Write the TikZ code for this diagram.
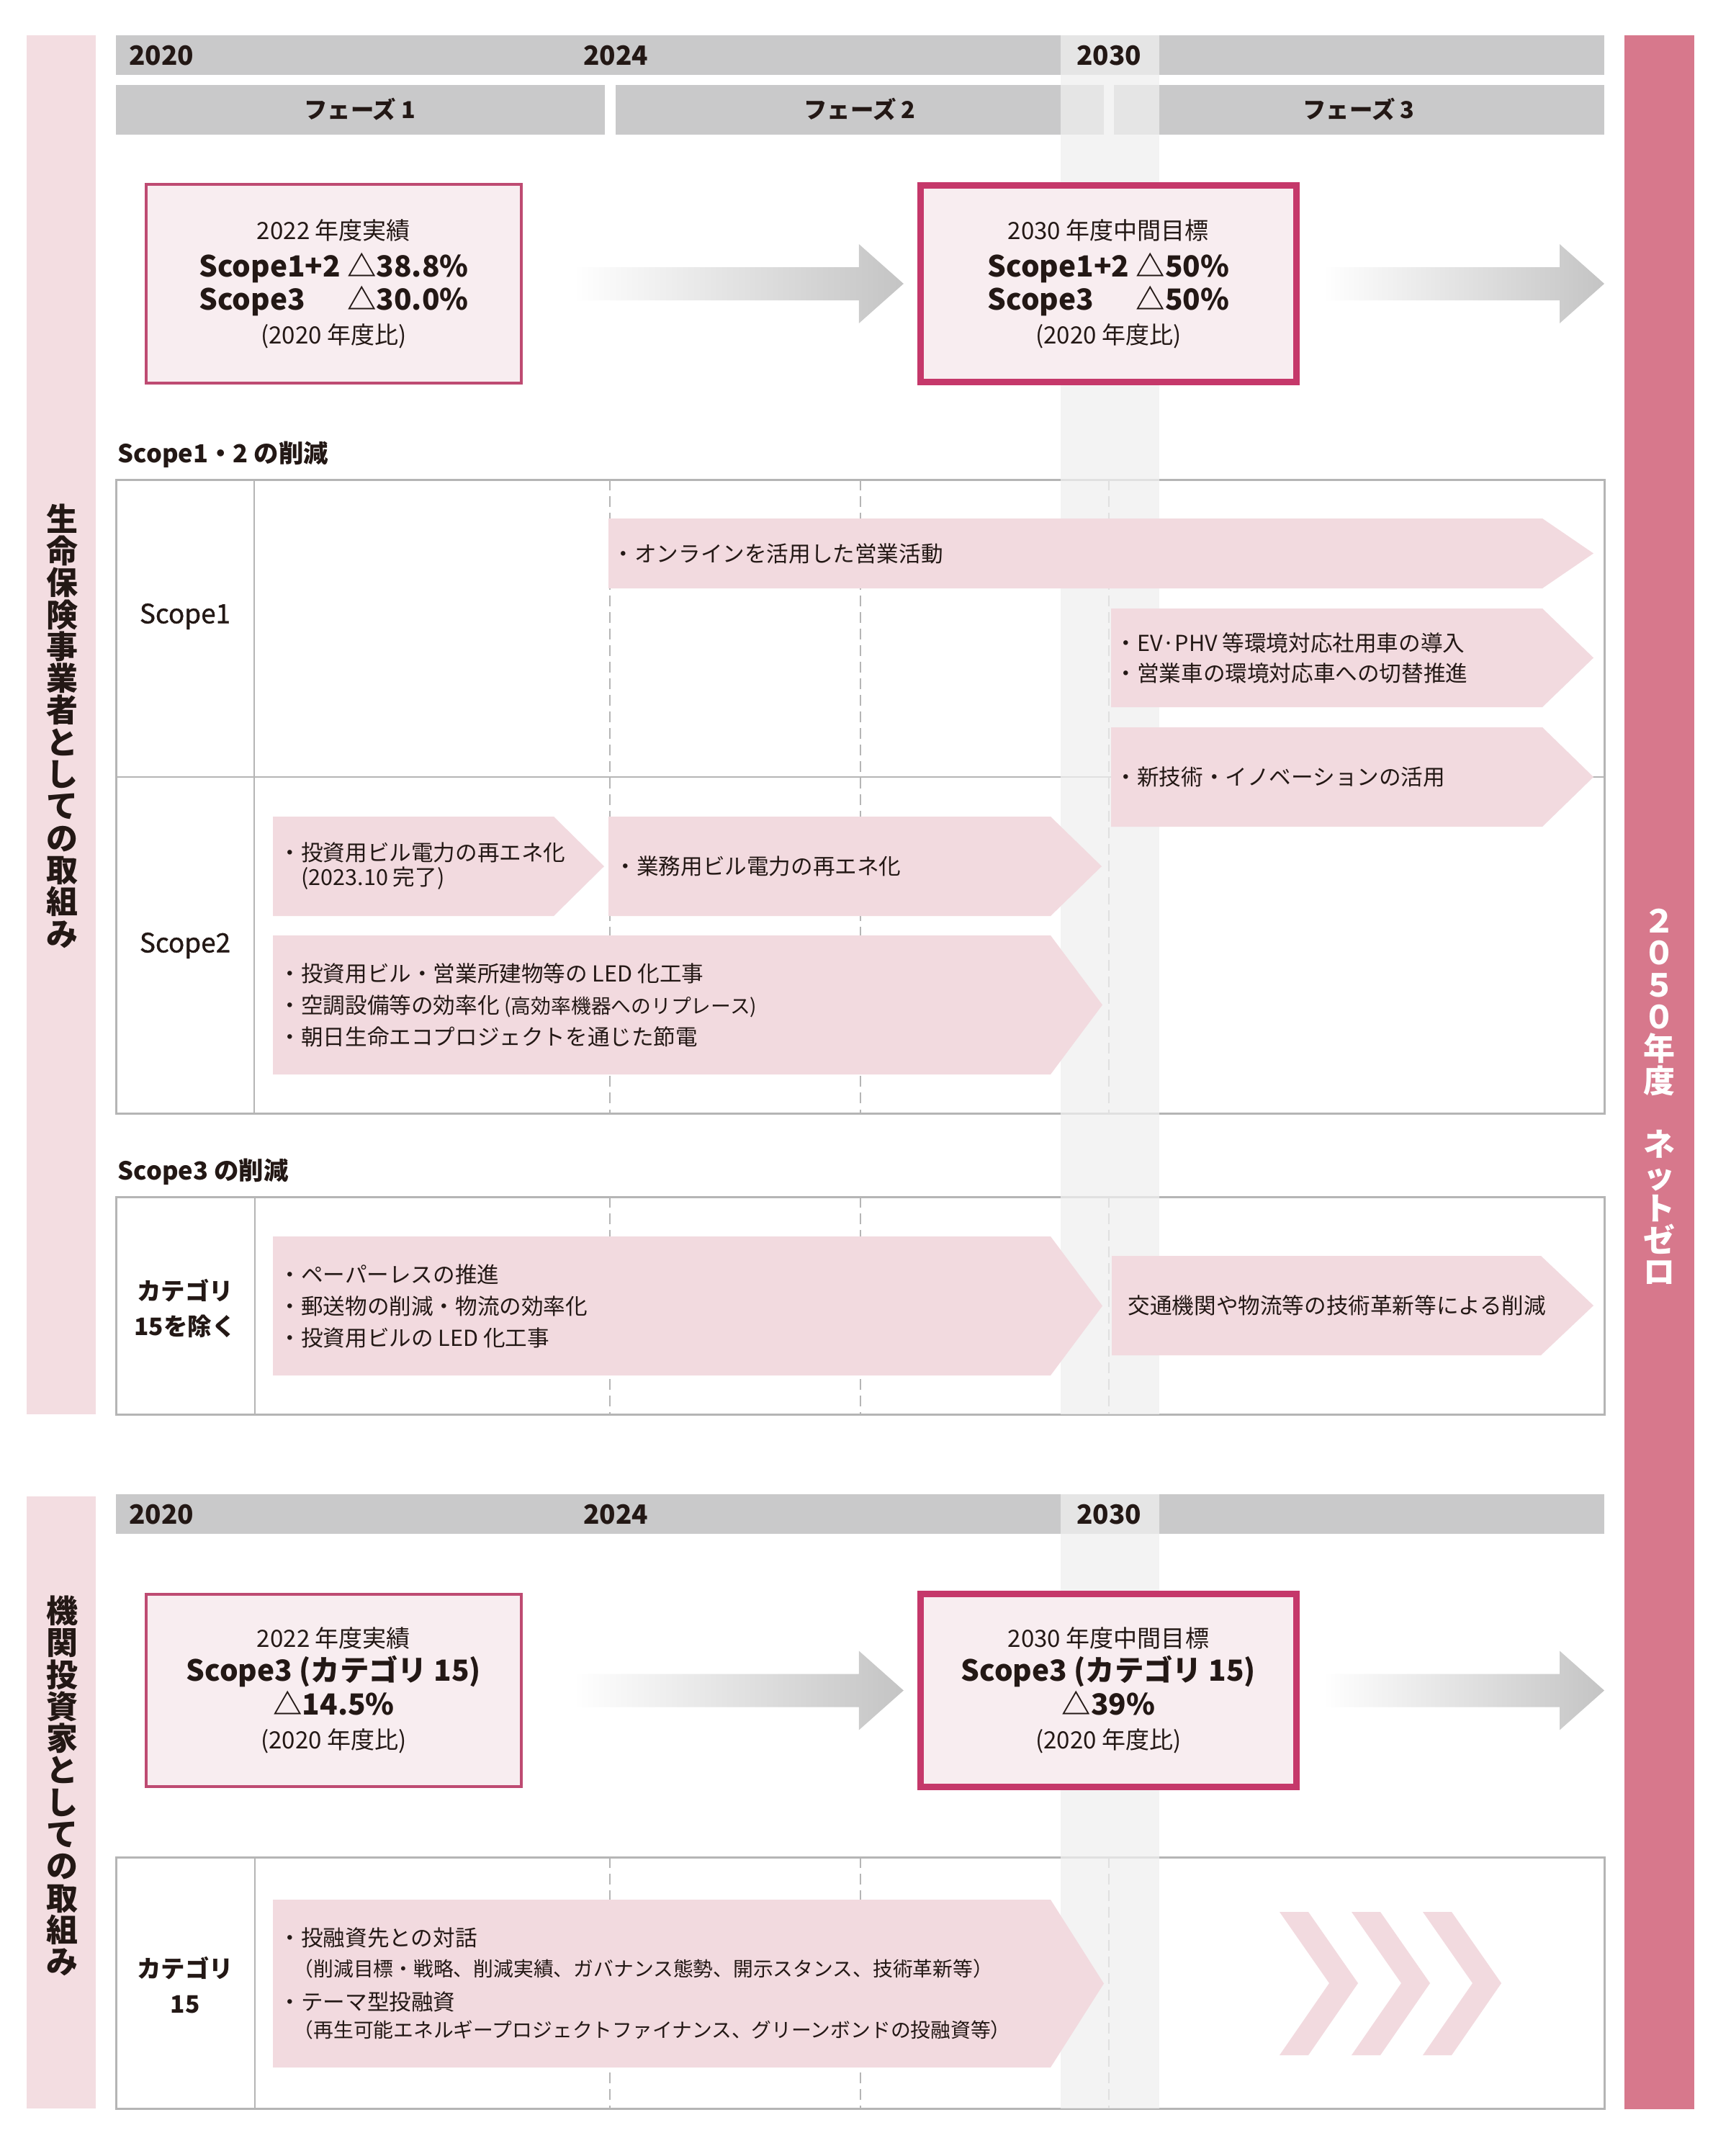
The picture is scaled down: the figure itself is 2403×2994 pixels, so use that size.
\documentclass[tikz,border=0pt]{standalone}
\usepackage{fontspec}
\setmainfont{Noto Sans CJK JP}
\newfontfamily\medfont{Noto Sans CJK JP}[FakeBold=1]
\usetikzlibrary{
  calc,
  positioning
}
\definecolor{ink}{HTML}{231815}
\definecolor{bargray}{HTML}{C9C9CA}
\definecolor{colgray}{HTML}{EFEFEF}
\definecolor{rulegray}{HTML}{B5B5B5}
\definecolor{sidepink}{HTML}{F3DDE1}
\definecolor{planpink}{HTML}{F2DADF}
\definecolor{boxpink}{HTML}{F8EDF0}
\definecolor{resultred}{HTML}{BE4B72}
\definecolor{targetred}{HTML}{C5386A}
\definecolor{netzero}{HTML}{D7788C}
\definecolor{fadegray}{HTML}{C4C4C4}
\newcommand{\subfont}{\fontsize{7.9}{10}\selectfont}
\newcommand{\keyfig}[1]{{\bfseries\fontsize{11.5}{13.4}\selectfont #1}}
\newcommand{\planarrow}[6]{%
  \fill[planfill] (#2,#3) -- (#4,#3) -- (#6,{(#3+#5)/2}) -- (#4,#5) -- (#2,#5) -- cycle;
  \coordinate (#1) at (#2,{(#3+#5)/2});}
\newcommand{\fadearrow}[2]{%
  \shade[fadeshade] ($(#1)+(0,-23)$) -- ($(#2)+(-62,-23)$) -- ($(#2)+(-62,-55)$)
    -- (#2) -- ($(#2)+(-62,55)$) -- ($(#2)+(-62,23)$) -- ($(#1)+(0,23)$) -- cycle;}
\tikzset{
  graybar/.style={fill=bargray},
  sidebar/.style={fill=sidepink},
  netzerobar/.style={fill=netzero},
  column/.style={fill=colgray, fill opacity=0.75},
  planfill/.style={fill=planpink},
  fadeshade/.style={left color=white, right color=fadegray},
  tableframe/.style={draw=rulegray, line width=0.03cm},
  divider/.style={draw=rulegray, line width=0.02cm},
  guide/.style={draw=rulegray, line width=0.02cm, dash pattern=on 0.15cm off 0.08cm},
  yeartext/.style={
    font=\bfseries\fontsize{10.5}{12}\selectfont,
    text=ink,
    inner sep=0pt
  },
  phasetext/.style={
    font=\bfseries\fontsize{9.2}{11}\selectfont,
    text=ink,
    inner sep=0pt
  },
  sidetext/.style={
    font=\bfseries\fontsize{12.5}{12.6}\selectfont,
    align=center,
    text=ink,
    inner sep=0pt
  },
  result/.style={
    draw=resultred,
    line width=0.04cm,
    fill=boxpink,
    minimum width=5.21cm,
    minimum height=2.75cm,
    align=center,
    text=ink,
    font=\fontsize{9.4}{13.4}\selectfont
  },
  target/.style={
    result,
    draw=targetred,
    line width=0.09cm,
    minimum width=5.22cm,
    minimum height=2.73cm
  },
  heading/.style={
    font=\bfseries\fontsize{9.8}{12}\selectfont,
    anchor=west,
    text=ink,
    inner sep=0pt
  },
  rowlabel/.style={
    font=\medfont\fontsize{10.5}{12}\selectfont,
    align=center,
    text=ink,
    inner sep=0pt
  },
  catlabel/.style={
    font=\bfseries\fontsize{9.5}{13.9}\selectfont,
    align=center,
    text=ink,
    inner sep=0pt
  },
  plantext/.style={
    font=\fontsize{8.7}{12.5}\selectfont,
    align=left,
    text=ink,
    inner sep=0pt
  }
}
\begin{document}
\begin{tikzpicture}[x=0.01cm, y=-0.01cm]
  \path[use as bounding box, fill=white] (0,0) rectangle (2403,2994);
  % bands and bars
  \fill[sidebar] (37,49) rectangle (133,1964);
  \fill[sidebar] (37,2078) rectangle (133,2928);
  \fill[netzerobar] (2256,49) rectangle (2353,2929);
  \fill[graybar] (161,49) rectangle (2228,104);
  \fill[graybar] (161,118) rectangle (840,187);
  \fill[graybar] (855,118) rectangle (1533,187);
  \fill[graybar] (1547,118) rectangle (2228,187);
  \fill[graybar] (161,2075) rectangle (2228,2130);
  % tables
  \draw[tableframe] (161,666) rectangle (2228,1546);
  \draw[divider] (353,666) -- (353,1546) (161,1079) -- (2228,1079);
  \draw[tableframe] (161,1662) rectangle (2228,1964);
  \draw[divider] (354,1662) -- (354,1964);
  \draw[tableframe] (161,2579) rectangle (2228,2928);
  \draw[divider] (354,2579) -- (354,2928);
  \foreach \x in {847,1195,1540}
    \draw[guide] (\x,666) -- (\x,1546) (\x,1662) -- (\x,1964) (\x,2579) -- (\x,2928);
  % 2030
  \fill[column] (1473,49) rectangle (1610,1964);
  \fill[column] (1473,2075) rectangle (1610,2928);
  % measures
  \planarrow{online}{845}{720}{2142}{817}{2213}
  \planarrow{ev}{1543}{845}{2142}{982}{2213}
  \planarrow{innov}{1543}{1010}{2142}{1148}{2213}
  \planarrow{invre}{379}{1134}{769}{1272}{839}
  \planarrow{offre}{845}{1134}{1459}{1272}{1530}
  \planarrow{led}{379}{1299}{1459}{1492}{1531}
  \planarrow{paper}{379}{1717}{1459}{1910}{1531}
  \planarrow{transit}{1544}{1744}{2140}{1882}{2213}
  \planarrow{dialog}{379}{2638}{1459}{2871}{1533}
  \foreach \x in {1777,1877,1976}
    \fill[planfill] (\x,2655) -- ++(40,0) -- ++(69,99) -- ++(-69,100) -- ++(-40,0) -- ++(69,-100) -- cycle;
  % targets
  \node[result] (res1) at (463.5,394) {2022 年度実績\\[1.4pt]
    \keyfig{Scope1+2 △38.8\%}\\[-0.3pt]
    \keyfig{\rlap{Scope3}\phantom{Scope1+2} △30.0\%}\\
    (2020 年度比)};
  \node[target] (tgt1) at (1539.5,394) {2030 年度中間目標\\[1.4pt]
    \keyfig{Scope1+2 △50\%}\\[-0.3pt]
    \keyfig{\rlap{Scope3}\phantom{Scope1+2} △50\%}\\
    (2020 年度比)};
  \node[result, minimum height=2.67cm] (res2) at (463.5,2347.5) {2022 年度実績\\
    \keyfig{Scope3 (カテゴリ 15)}\\
    \keyfig{△14.5\%}\\
    (2020 年度比)};
  \node[target, minimum height=2.67cm] (tgt2) at (1539.5,2347.5) {2030 年度中間目標\\
    \keyfig{Scope3 (カテゴリ 15)}\\
    \keyfig{△39\%}\\
    (2020 年度比)};
  \coordinate (a1s) at ([xshift=0.7cm]res1.east);
  \coordinate (a1e) at ([xshift=-0.19cm]tgt1.west);
  \coordinate (a2s) at ([xshift=0.32cm]tgt1.east);
  \coordinate (goal1) at (2228,394);
  \coordinate (a3s) at ([xshift=0.7cm]res2.east);
  \coordinate (a3e) at ([xshift=-0.19cm]tgt2.west);
  \coordinate (a4s) at ([xshift=0.32cm]tgt2.east);
  \coordinate (goal2) at (2228,2347.5);
  \fadearrow{a1s}{a1e}
  \fadearrow{a2s}{goal1}
  \fadearrow{a3s}{a3e}
  \fadearrow{a4s}{goal2}
  % texts
  \node[yeartext] (y2020) at (224,77) {2020};
  \node[yeartext] (y2024) at (855,77) {2024};
  \node[yeartext] (y2030) at (1540,77) {2030};
  \node[yeartext] (y2020b) at (224,2103) {2020};
  \node[yeartext] (y2024b) at (855,2103) {2024};
  \node[yeartext] (y2030b) at (1540,2103) {2030};
  \node[phasetext] (ph1) at (500,152) {フェーズ 1};
  \node[phasetext] (ph2) at (1194,152) {フェーズ 2};
  \node[phasetext] (ph3) at (1887,152) {フェーズ 3};
  \node[sidetext] (lifeside) at (86,1008) {生\\命\\保\\険\\事\\業\\者\\と\\し\\て\\の\\取\\組\\み};
  \node[sidetext] (investside) at (86,2480) {機\\関\\投\\資\\家\\と\\し\\て\\の\\取\\組\\み};
  \node[sidetext, text=white] (netzerotext) at (2304,1523) {２\\０\\５\\０\\年\\度\\[12.6pt]ネ\\ッ\\ト\\ゼ\\ロ};
  \node[heading] (head12) at (163,631) {Scope1・2 の削減};
  \node[heading] (head3) at (163,1627) {Scope3 の削減};
  \node[rowlabel] (scope1lbl) at (257,856) {Scope1};
  \node[rowlabel] (scope2lbl) at (257,1313) {Scope2};
  \node[catlabel] (catlbl) at (257,1817) {カテゴリ\\15を除く};
  \node[catlabel] (cat15lbl) at (257,2757) {カテゴリ\\15};
  \node[plantext, right=0.05cm of online] (onlinetext) {・オンラインを活用した営業活動};
  \node[plantext, right=0.05cm of ev] (evtext) {・EV·PHV 等環境対応社用車の導入\\[-0.6pt]・営業車の環境対応車への切替推進};
  \node[plantext, right=0.05cm of innov] (innovtext) {・新技術・イノベーションの活用};
  \node[plantext, right=0.08cm of invre] (invretext) {・投資用ビル電力の再エネ化\\[-2.8pt]\phantom{・}(2023.10 完了)};
  \node[plantext, right=0.08cm of offre] (offretext) {・業務用ビル電力の再エネ化};
  \node[plantext, right=0.08cm of led] (ledtext) {・投資用ビル・営業所建物等の LED 化工事\\
    ・空調設備等の効率化 {\subfont (高効率機器へのリプレース)}\\
    ・朝日生命エコプロジェクトを通じた節電};
  \node[plantext, right=0.08cm of paper] (papertext) {・ペーパーレスの推進\\・郵送物の削減・物流の効率化\\・投資用ビルの LED 化工事};
  \node[plantext, right=0.22cm of transit] (transittext) {交通機関や物流等の技術革新等による削減};
  \node[plantext, right=0.08cm of dialog] (dialogtext) {・投融資先との対話\\[-0.6pt]
    \hspace*{0.2cm}{\subfont （削減目標・戦略、削減実績、ガバナンス態勢、開示スタンス、技術革新等）}\\[1.1pt]
    ・テーマ型投融資\\[-1.7pt]
    \hspace*{0.2cm}{\subfont （再生可能エネルギープロジェクトファイナンス、グリーンボンドの投融資等）}};
\end{tikzpicture}
\end{document}
